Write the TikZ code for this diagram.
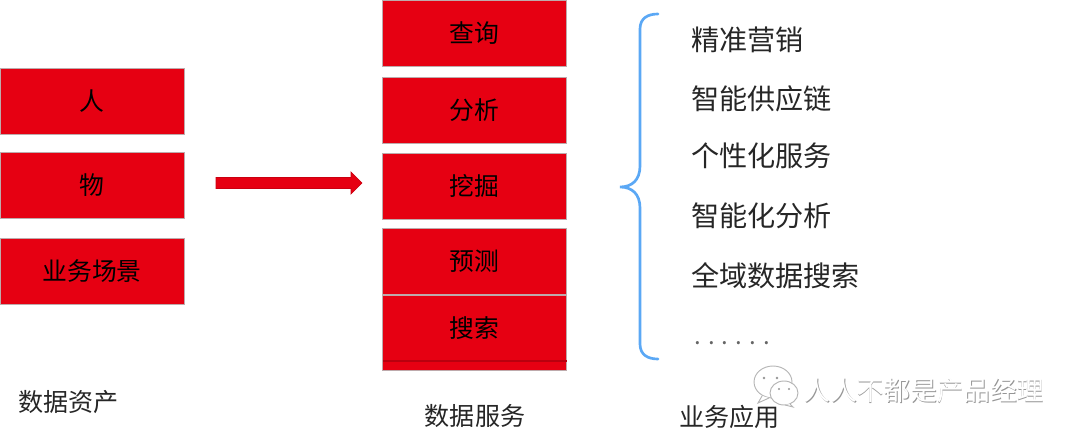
\documentclass[tikz,border=0pt]{standalone}
\usepackage{fontspec}
\setmainfont{Noto Sans CJK SC}
\definecolor{boxred}{RGB}{230,0,18}
\definecolor{boxedge}{RGB}{190,170,172}
\definecolor{lineRed}{RGB}{185,0,14}
\definecolor{bracecol}{RGB}{91,168,245}
\definecolor{wmgray}{RGB}{150,150,150}
\tikzset{
  x=0.75pt,y=-0.75pt,
  redbox/.style={draw=boxedge,line width=0.6pt,fill=boxred,minimum width=138pt,minimum height=49.5pt,inner sep=0pt,outer sep=0pt,text=black,font=\fontsize{18.6pt}{22pt}\selectfont},
  caption/.style={inner sep=0pt,text=black!85,font=\fontsize{18.8pt}{22pt}\selectfont},
  applabel/.style={inner sep=0pt,anchor=west,text=black!85,font=\fontsize{21.1pt}{24pt}\selectfont},
  wmtext/.style={inner sep=0pt,font=\fontsize{20pt}{24pt}\selectfont},
  wmicon/.style={draw=wmgray!70,fill=white,line width=0.7pt},
}
\begin{document}
\begin{tikzpicture}
\useasboundingbox (0,0) rectangle (1080,438);
% left column
\node[redbox] (ren) at (92,101) {人};
\node[redbox] (wu) at (92,185) {物};
\node[redbox] (scene) at (92,271) {业务场景};
% middle column
\node[redbox] (query) at (474.7,33) {查询};
\node[redbox] (analysis) at (474.7,110) {分析};
\node[redbox] (mining) at (474.7,186) {挖掘};
\node[redbox] (predict) at (474.7,261) {预测};
\node[redbox,minimum height=56.25pt] (search) at (474.7,332.5) {};
\node[text=black,inner sep=0pt,font=\fontsize{18.6pt}{22pt}\selectfont] (searchlabel) at (474,328) {搜索};
\coordinate (sl) at (383,361);
\coordinate (sr) at (566.5,361);
\draw[draw=lineRed,line width=0.9pt] (sl) -- (sr);
% block arrow
\coordinate (as) at (216,183);
\draw[fill=boxred,draw=black!12!boxred,line width=0.5pt]
  (216,177.5) -- (351,177.5) -- (351,172) -- (362,183) -- (351,194) -- (351,188.5) -- (216,188.5) -- cycle;
% brace
\coordinate (bt) at (658,14);
\coordinate (bm) at (620,187);
\coordinate (bb) at (658,359);
\draw[bracecol,line width=2pt,line cap=round]
  (bt) .. controls (648,14) and (640,18) .. (640,29)
  -- (640,166) .. controls (640,180) and (632,187) .. (bm)
  .. controls (632,187) and (640,194) .. (640,208)
  -- (640,344) .. controls (640,355) and (648,359) .. (bb);
% right labels
\node[applabel] (a1) at (691,40) {精准营销};
\node[applabel] (a2) at (691,99) {智能供应链};
\node[applabel] (a3) at (691,156) {个性化服务};
\node[applabel] (a4) at (691,216) {智能化分析};
\node[applabel] (a5) at (691,276) {全域数据搜索};
\node[applabel,text=black!60,font=\fontsize{18pt}{20pt}\selectfont] (a6) at (694,343) {. . . . . .};
% captions
\node[caption] (c1) at (68.5,402) {数据资产};
\node[caption] (c2) at (475,416) {数据服务};
\node[caption] (c3) at (729.5,417) {业务应用};
% watermark
\begin{scope}
\draw[wmicon] (773,382) ellipse (19 and 16);
\draw[wmicon] (762,396) -- (758,403) -- (769,398);
\draw[wmicon] (784,393) ellipse (14 and 12);
\draw[wmicon] (790,404) -- (793,407) -- (785,405) ;
\fill[wmgray] (764,378) circle (1.3) (777,378) circle (1.3) (779,389) circle (1.1) (789,389) circle (1.1);
\end{scope}
\node[wmtext,text=wmgray] (wm0) at (924.6,391) {人人不都是产品经理};
\node[wmtext,text=white] (wm1) at (923.8,390.2) {人人不都是产品经理};
\end{tikzpicture}
\end{document}
